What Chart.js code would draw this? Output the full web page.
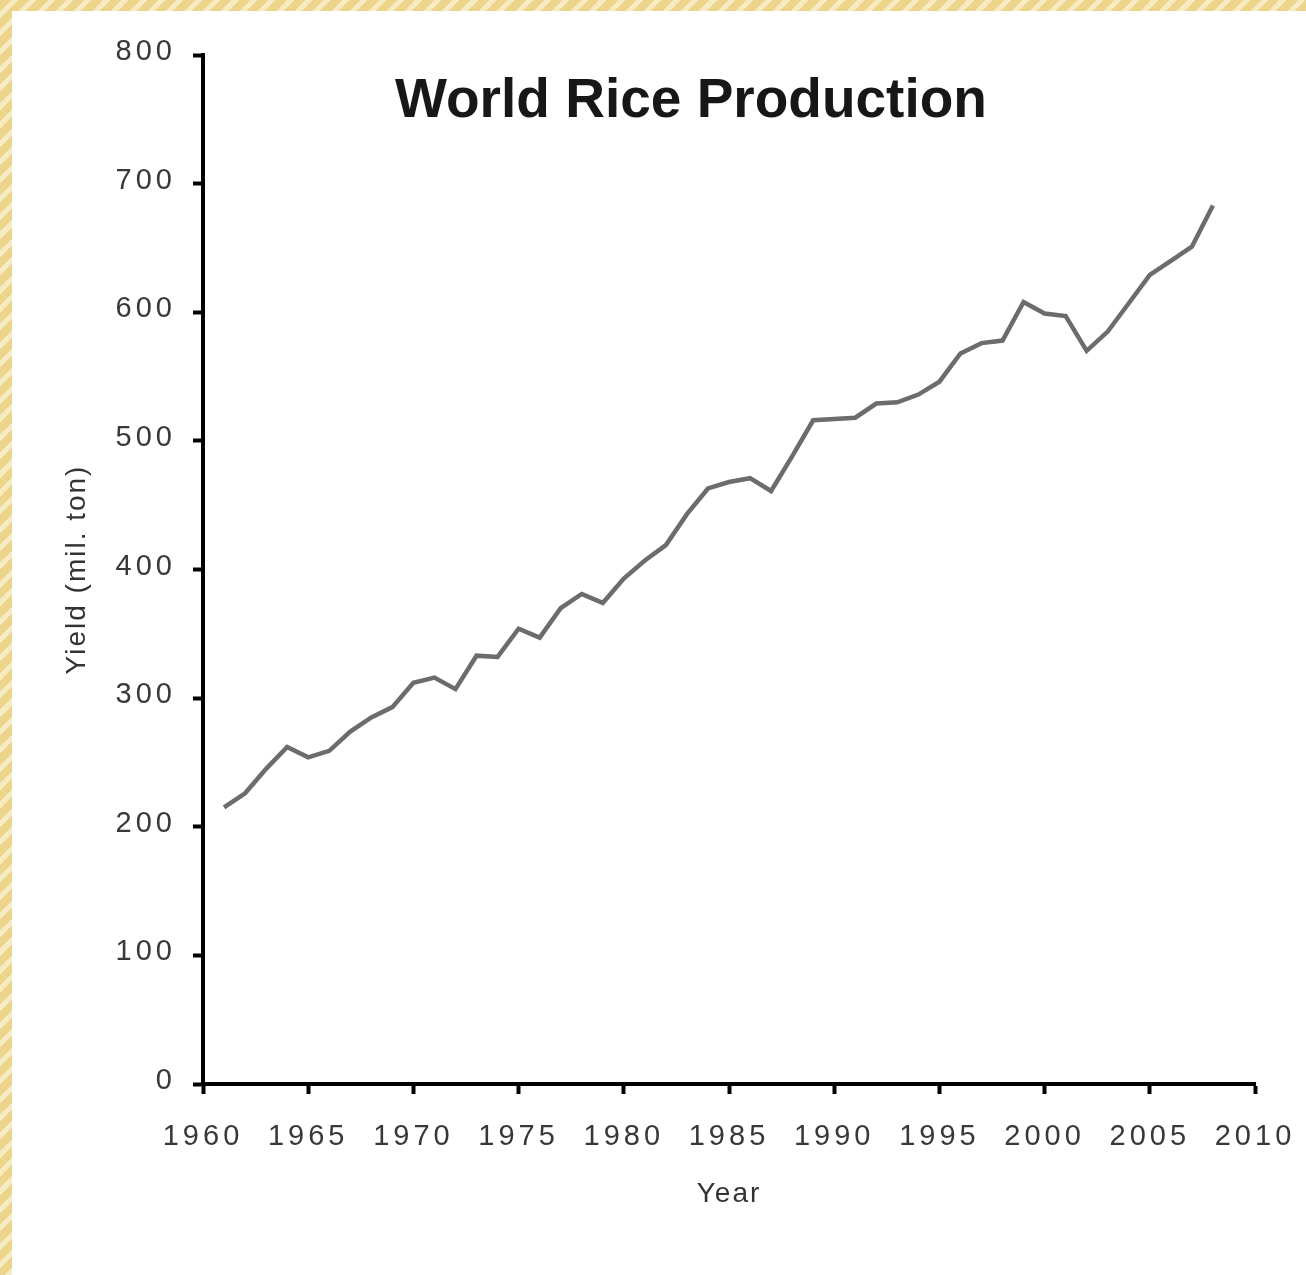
<!DOCTYPE html>
<html>
<head>
<meta charset="utf-8">
<title>World Rice Production</title>
<script src="https://cdn.jsdelivr.net/npm/chart.js@4.4.1/dist/chart.umd.min.js"></script>
<style>
  html, body { margin: 0; padding: 0; width: 1306px; height: 1275px; overflow: hidden; }
  body { background: repeating-linear-gradient(135deg, #ecd48a 0px, #ecd48a 8px, #f7ebc4 8px, #f7ebc4 13px); }
  #panel { position: absolute; left: 12px; top: 11px; right: 0; bottom: 0; background: #ffffff; }
  #wrap { position: absolute; left: 0; top: 0; width: 1306px; height: 1275px; }
</style>
</head>
<body>
<div id="panel"></div>
<div id="wrap"><canvas id="chart" width="1306" height="1275"></canvas></div>
<script>
// Annual world paddy rice output, million tonnes
const years = [
  1961, 1962, 1963, 1964, 1965, 1966, 1967, 1968, 1969, 1970,
  1971, 1972, 1973, 1974, 1975, 1976, 1977, 1978, 1979, 1980,
  1981, 1982, 1983, 1984, 1985, 1986, 1987, 1988, 1989, 1990,
  1991, 1992, 1993, 1994, 1995, 1996, 1997, 1998, 1999, 2000,
  2001, 2002, 2003, 2004, 2005, 2006, 2007, 2008
];
const production = [
  215, 226, 245, 262, 254, 259, 274, 285, 293, 312,
  316, 307, 333, 332, 354, 347, 370, 381, 374, 393,
  407, 419, 443, 463, 468, 471, 461, 488, 516, 517,
  518, 529, 530, 536, 546, 568, 576, 578, 608, 599,
  597, 570, 585, 607, 629, 640, 651, 683
];
const xTickYears = [1960, 1965, 1970, 1975, 1980, 1985, 1990, 1995, 2000, 2005, 2010];
const yTickValues = [0, 100, 200, 300, 400, 500, 600, 700, 800];

const chartTitle = 'World Rice Production';
const xAxisTitle = 'Year';
const yAxisTitle = 'Yield (mil. ton)';

const FONT = '"Liberation Sans", Arial, sans-serif';

// Axis titles (drawn with the grid layer) get light letter spacing,
// tick labels (drawn on a layer above the line) get wider spacing,
// and the bold heading is painted last, over the plot area.
const textStyle = {
  id: 'textStyle',
  beforeDraw(chart) {
    chart.ctx.letterSpacing = '2px';
  },
  afterDatasetsDraw(chart) {
    chart.ctx.letterSpacing = '4px';
  },
  afterDraw(chart) {
    const ctx = chart.ctx;
    ctx.save();
    ctx.letterSpacing = '0px';
    ctx.font = 'bold 55px ' + FONT;
    ctx.fillStyle = '#171717';
    ctx.textAlign = 'center';
    ctx.textBaseline = 'alphabetic';
    ctx.fillText(chartTitle, 691, 117);
    ctx.restore();
  }
};

new Chart(document.getElementById('chart'), {
  type: 'line',
  data: {
    datasets: [{
      label: chartTitle,
      data: years.map((y, i) => ({ x: y, y: production[i] })),
      borderColor: '#6c6c6c',
      borderWidth: 4.5,
      pointRadius: 0,
      tension: 0,
      fill: false
    }]
  },
  options: {
    responsive: false,
    animation: false,
    layout: { padding: { left: 0, right: 51, top: 55, bottom: 0 } },
    plugins: {
      legend: { display: false },
      title: { display: false },
      tooltip: { enabled: false }
    },
    scales: {
      x: {
        type: 'linear',
        min: 1960,
        max: 2010,
        afterBuildTicks: s => { s.ticks = xTickYears.map(v => ({ value: v })); },
        afterFit: s => { s.height = 191; s.paddingLeft = 0; s.paddingRight = 0; },
        border: { display: true, color: '#000', width: 4 },
        grid: { drawOnChartArea: false, drawTicks: true, tickLength: 10, tickWidth: 4, tickColor: '#000', color: '#000', z: 0 },
        ticks: {
          z: 1,
          autoSkip: false,
          maxRotation: 0,
          padding: 26,
          color: '#383838',
          font: { family: FONT, size: 29 },
          callback: v => String(v)
        },
        title: {
          display: true,
          text: xAxisTitle,
          color: '#333',
          font: { family: FONT, size: 28 },
          padding: { top: 0, bottom: 64 }
        }
      },
      y: {
        type: 'linear',
        min: 0,
        max: 800,
        afterBuildTicks: s => { s.ticks = yTickValues.map(v => ({ value: v })); },
        afterFit: s => { s.width = 203; s.paddingTop = 0; s.paddingBottom = 0; },
        border: { display: true, color: '#000', width: 4 },
        grid: { drawOnChartArea: false, drawTicks: true, tickLength: 10, tickWidth: 4, tickColor: '#000', color: '#000', z: 0 },
        ticks: {
          z: 1,
          padding: 17,
          labelOffset: -3,
          color: '#383838',
          font: { family: FONT, size: 29 },
          callback: v => String(v)
        },
        title: {
          display: true,
          text: yAxisTitle,
          color: '#333',
          font: { family: FONT, size: 28 },
          padding: { top: 60, bottom: 0 }
        }
      }
    }
  },
  plugins: [textStyle]
});
</script>
</body>
</html>
